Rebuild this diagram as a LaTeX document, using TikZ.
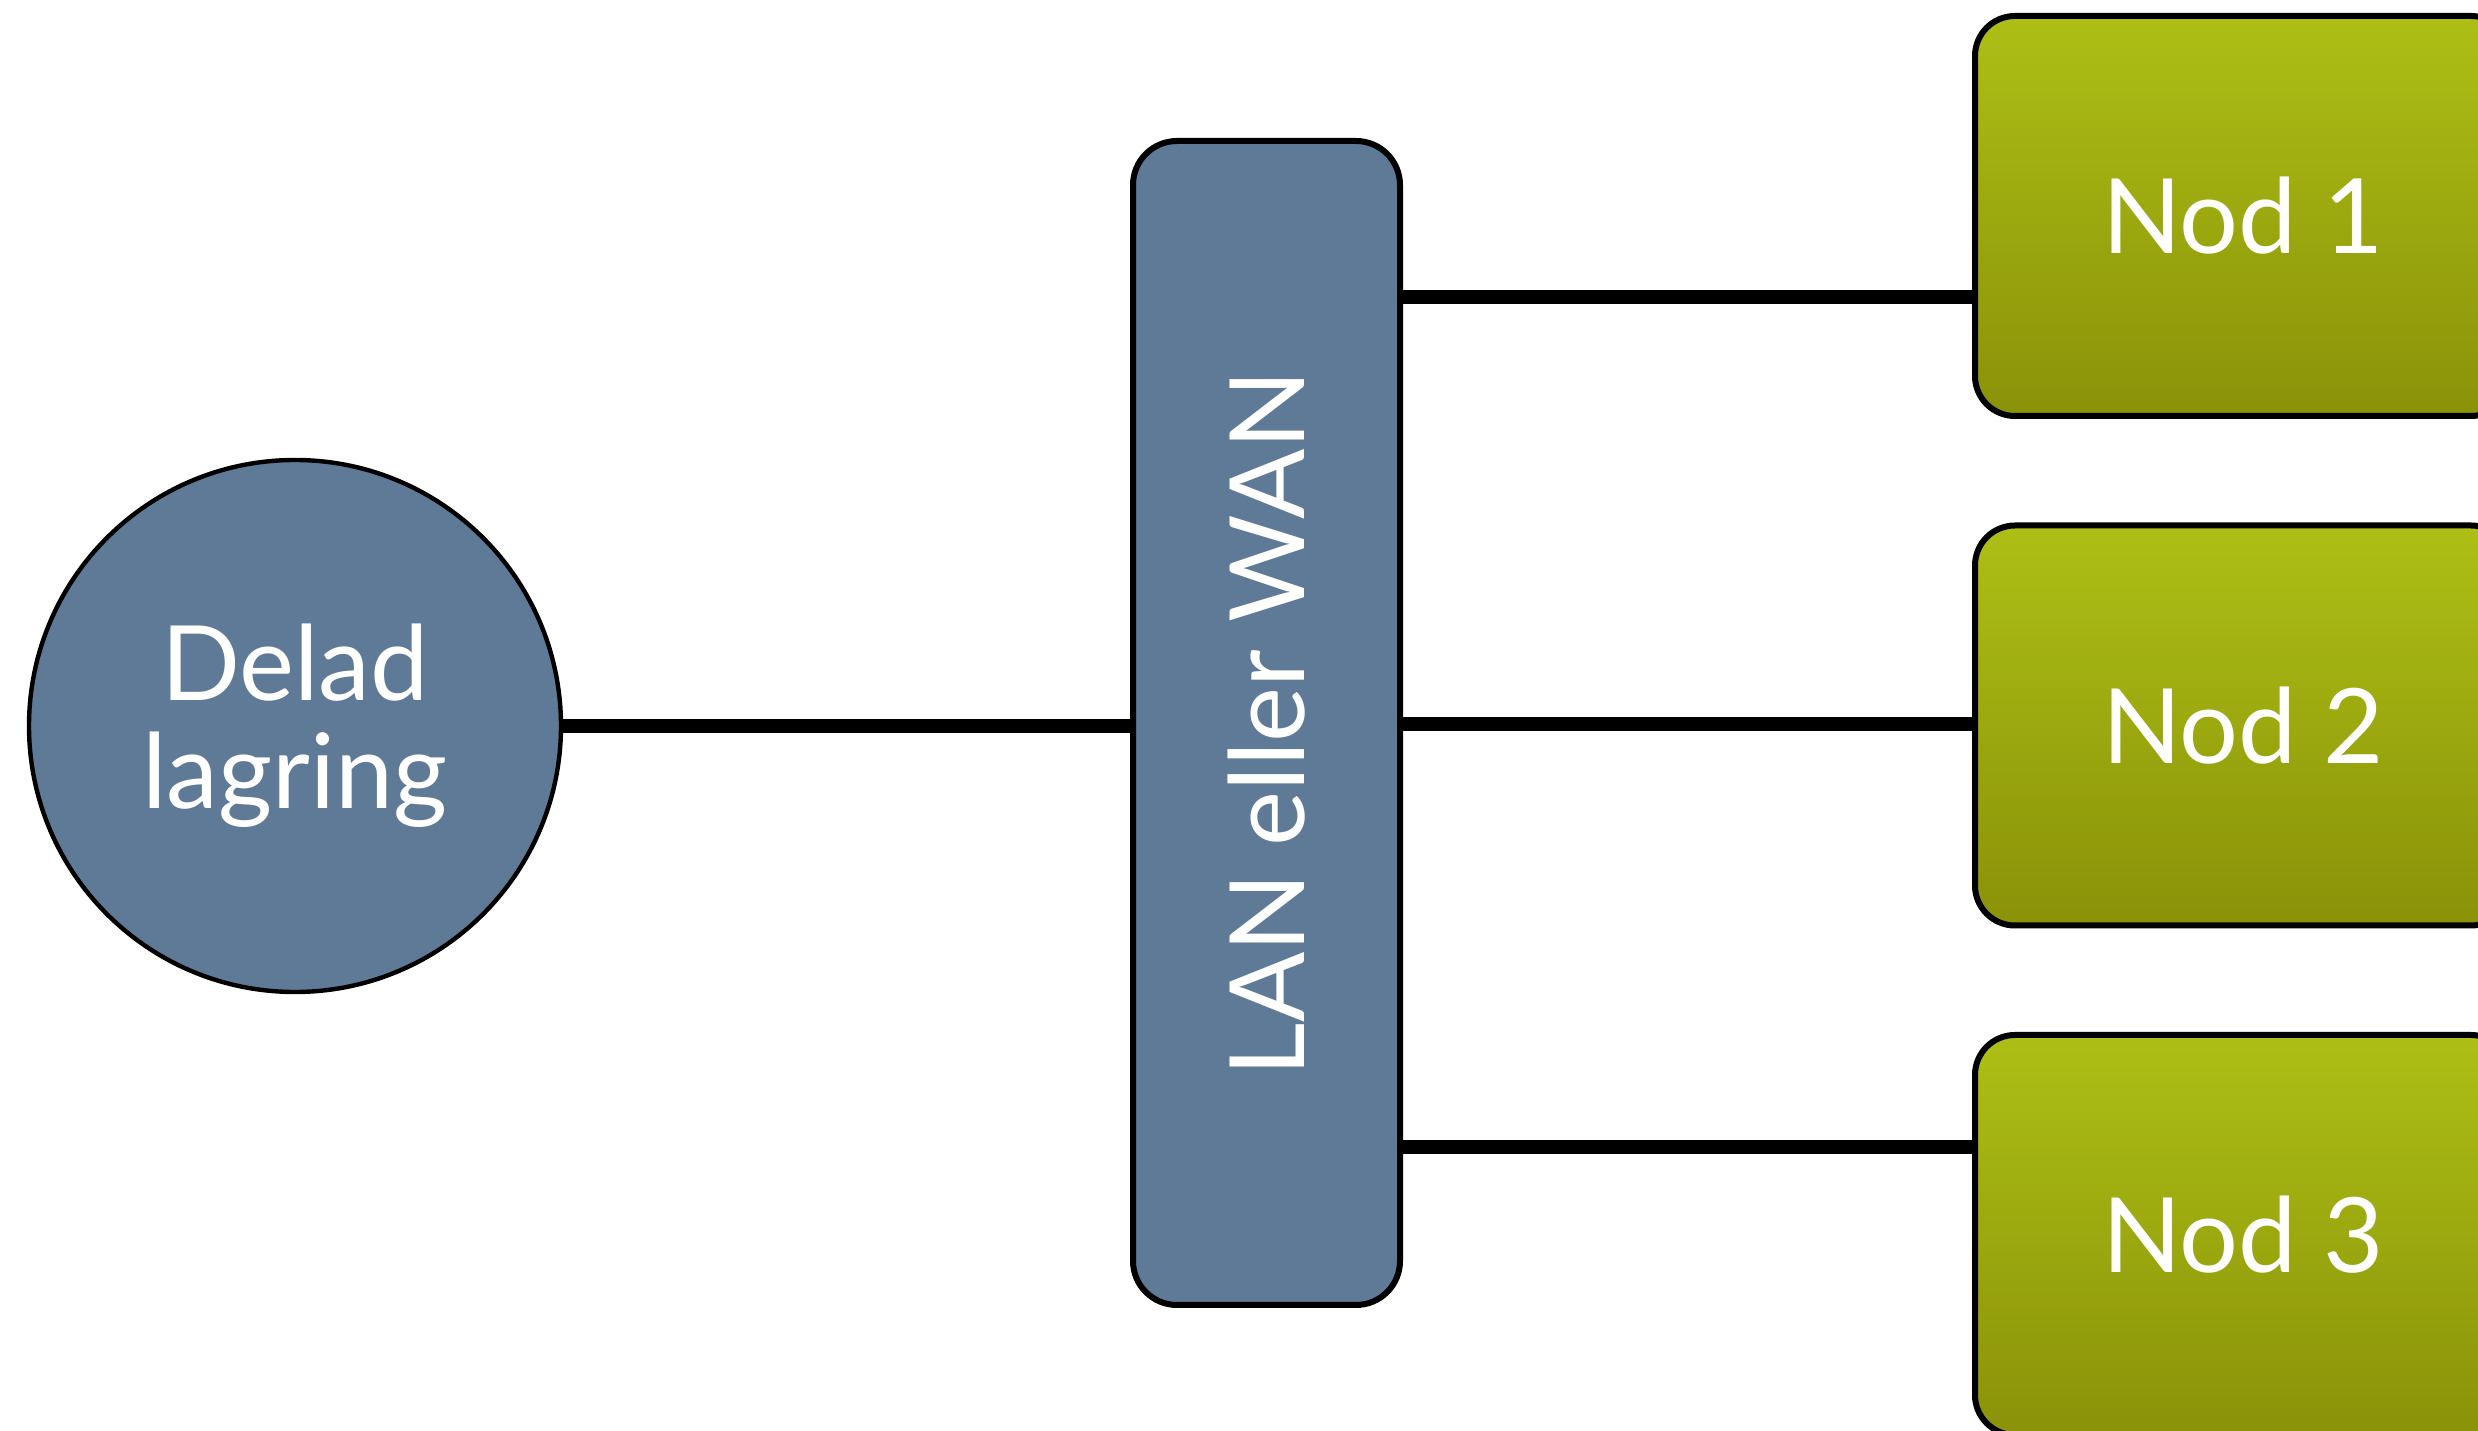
\documentclass[tikz,border=0pt]{standalone}
\usepackage{fontspec}
\setmainfont{Lato}
\definecolor{slate}{RGB}{94,122,150}
\definecolor{greentop}{RGB}{173,191,22}
\definecolor{greenbot}{RGB}{138,146,8}
\begin{document}
\begin{tikzpicture}[x=0.25pt,y=-0.25pt,
  lbl/.style={text=white,font=\fontsize{26}{31}\selectfont},
  storage/.style={circle,draw=black,line width=1.1pt,fill=slate,minimum size=133pt,inner sep=0pt,lbl,align=center},
  netbox/.style={rectangle,rounded corners=11pt,draw=black,line width=1.5pt,fill=slate,minimum width=66.75pt,minimum height=291pt,inner sep=0pt,lbl},
  nodbox/.style={rectangle,rounded corners=10pt,draw=black,line width=1.5pt,top color=greentop,bottom color=greenbot,minimum width=134pt,minimum height=100pt,inner sep=0pt,lbl},
  link/.style={line width=3.3pt,black}]
\useasboundingbox (0,0) rectangle (2478,1431);
\node[storage] (store) at (295,726) {Delad\\[-4pt]lagring};
\node[netbox] (lan) at (1266.5,723) {\rotatebox{90}{LAN eller WAN}};
\node[nodbox] (n1) at (2243,216) {Nod 1};
\node[nodbox] (n2) at (2243,725.5) {Nod 2};
\node[nodbox] (n3) at (2243,1235) {Nod 3};
\draw[link] (store.east) -- (lan.west |- store.east);
\draw[link] (lan.east |- 0,297) -- (n1.west |- 0,297);
\draw[link] (lan.east |- 0,724) -- (n2.west |- 0,724);
\draw[link] (lan.east |- 0,1147) -- (n3.west |- 0,1147);
\end{tikzpicture}
\end{document}
